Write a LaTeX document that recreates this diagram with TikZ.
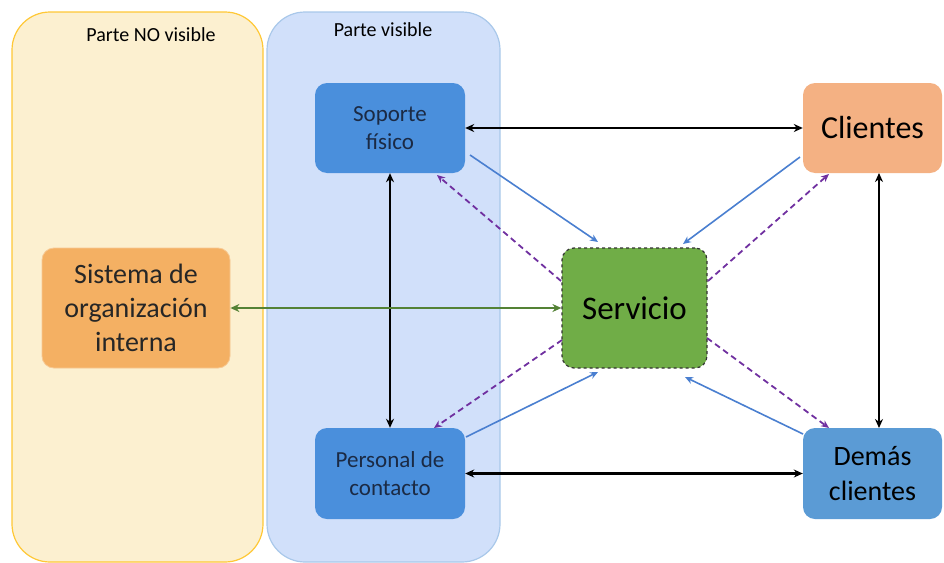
\documentclass[tikz,border=0pt]{standalone}
\usepackage{fontspec}
\setmainfont{Carlito}
\usetikzlibrary{arrows.meta}
\definecolor{yfill}{HTML}{FCF0D0}
\definecolor{yline}{HTML}{FFC836}
\definecolor{bfill}{HTML}{D1E0FA}
\definecolor{bline}{HTML}{A9C8EA}
\definecolor{boxblue}{HTML}{4A8FDC}
\definecolor{boxblue2}{HTML}{5B9BD5}
\definecolor{salmon}{HTML}{F4B183}
\definecolor{orangebox}{HTML}{F4B063}
\definecolor{greenbox}{HTML}{70AD47}
\definecolor{greenline}{HTML}{548235}
\definecolor{thinblue}{HTML}{4A7FD0}
\definecolor{purp}{HTML}{7030A0}
\definecolor{navytext}{HTML}{1B2A44}
\tikzset{
  panel/.style={rounded corners=38pt, line width=1.2pt},
  box/.style={rounded corners=12pt, align=center, inner sep=0pt},
  blk/.style={line width=2.4pt, black, {Stealth[length=9pt,width=8pt]}-{Stealth[length=9pt,width=8pt]}},
  grn/.style={line width=2.4pt, greenline, {Stealth[length=9pt,width=8pt]}-{Stealth[length=9pt,width=8pt]}},
  thin/.style={line width=1.6pt, thinblue, -{Stealth[length=8pt,width=7pt]}},
  pdash/.style={line width=1.8pt, purp, dash pattern=on 6pt off 4pt, -{Stealth[length=8pt,width=7pt]}}
}
\begin{document}
\begin{tikzpicture}[x=1pt,y=-1pt]
\useasboundingbox (0,0) rectangle (944,562);
% panels
\draw[panel, fill=yfill, draw=yline] (12,12) rectangle (263,562);
\draw[panel, fill=bfill, draw=bline] (267,12) rectangle (500,562);
\node (lno) at (151,35) {\fontsize{20}{24}\selectfont Parte NO visible};
\node (lvis) at (383,30) {\fontsize{20}{24}\selectfont Parte visible};
% boxes
\node[box, fill=boxblue, text=navytext, minimum width=150pt, minimum height=90pt, font=\fontsize{23}{28}\selectfont] (sop) at (390,128) {Soporte\\físico};
\node[box, fill=boxblue, text=navytext, minimum width=150pt, minimum height=91pt, font=\fontsize{23}{28}\selectfont] (per) at (390,473.5) {Personal de\\contacto};
\node[box, fill=salmon, text=black, minimum width=139pt, minimum height=90pt, font=\fontsize{32}{38}\selectfont] (cli) at (872.5,128) {Clientes};
\node[box, fill=boxblue2, text=black, minimum width=139pt, minimum height=91pt, font=\fontsize{28}{35}\selectfont] (dem) at (872.5,473.5) {Demás\\clientes};
\node[box, fill=orangebox, draw=orangebox!70!white, line width=0.8pt, text=black!85, minimum width=188pt, minimum height=120pt, font=\fontsize{28}{34}\selectfont] (sis) at (136,308) {Sistema de\\organización\\interna};
\node[box, fill=greenbox, draw=black!80, dashed, line width=1.2pt, text=black, minimum width=145pt, minimum height=120pt, font=\fontsize{33}{40}\selectfont] (srv) at (634.5,308) {Servicio};
% coordinates for diagonal connectors
\coordinate (a1) at (470,155);  \coordinate (a2) at (598,242);
\coordinate (b1) at (800,157);  \coordinate (b2) at (683,244);
\coordinate (c1) at (466,437);  \coordinate (c2) at (598,372);
\coordinate (d1) at (803,434);  \coordinate (d2) at (685,377);
\coordinate (p1) at (561,281);  \coordinate (p2) at (437,175);
\coordinate (q1) at (708,281);  \coordinate (q2) at (829,174);
\coordinate (r1) at (562,340);  \coordinate (r2) at (434,428);
\coordinate (s1) at (707,338);  \coordinate (s2) at (829,428);
\coordinate (cv1) at (879,173); \coordinate (cv2) at (879,428);
% connectors
\draw[blk] (sop.east) -- (cli.west);
\draw[blk] (per.east) -- (dem.west);
\draw[blk] (sop.south) -- (per.north);
\draw[blk] (cv1) -- (cv2);
\draw[grn] (sis.east) -- (srv.west);
\draw[thin] (a1) -- (a2);
\draw[thin] (b1) -- (b2);
\draw[thin] (c1) -- (c2);
\draw[thin] (d1) -- (d2);
\draw[pdash] (p1) -- (p2);
\draw[pdash] (q1) -- (q2);
\draw[pdash] (r1) -- (r2);
\draw[pdash] (s1) -- (s2);
\end{tikzpicture}
\end{document}
